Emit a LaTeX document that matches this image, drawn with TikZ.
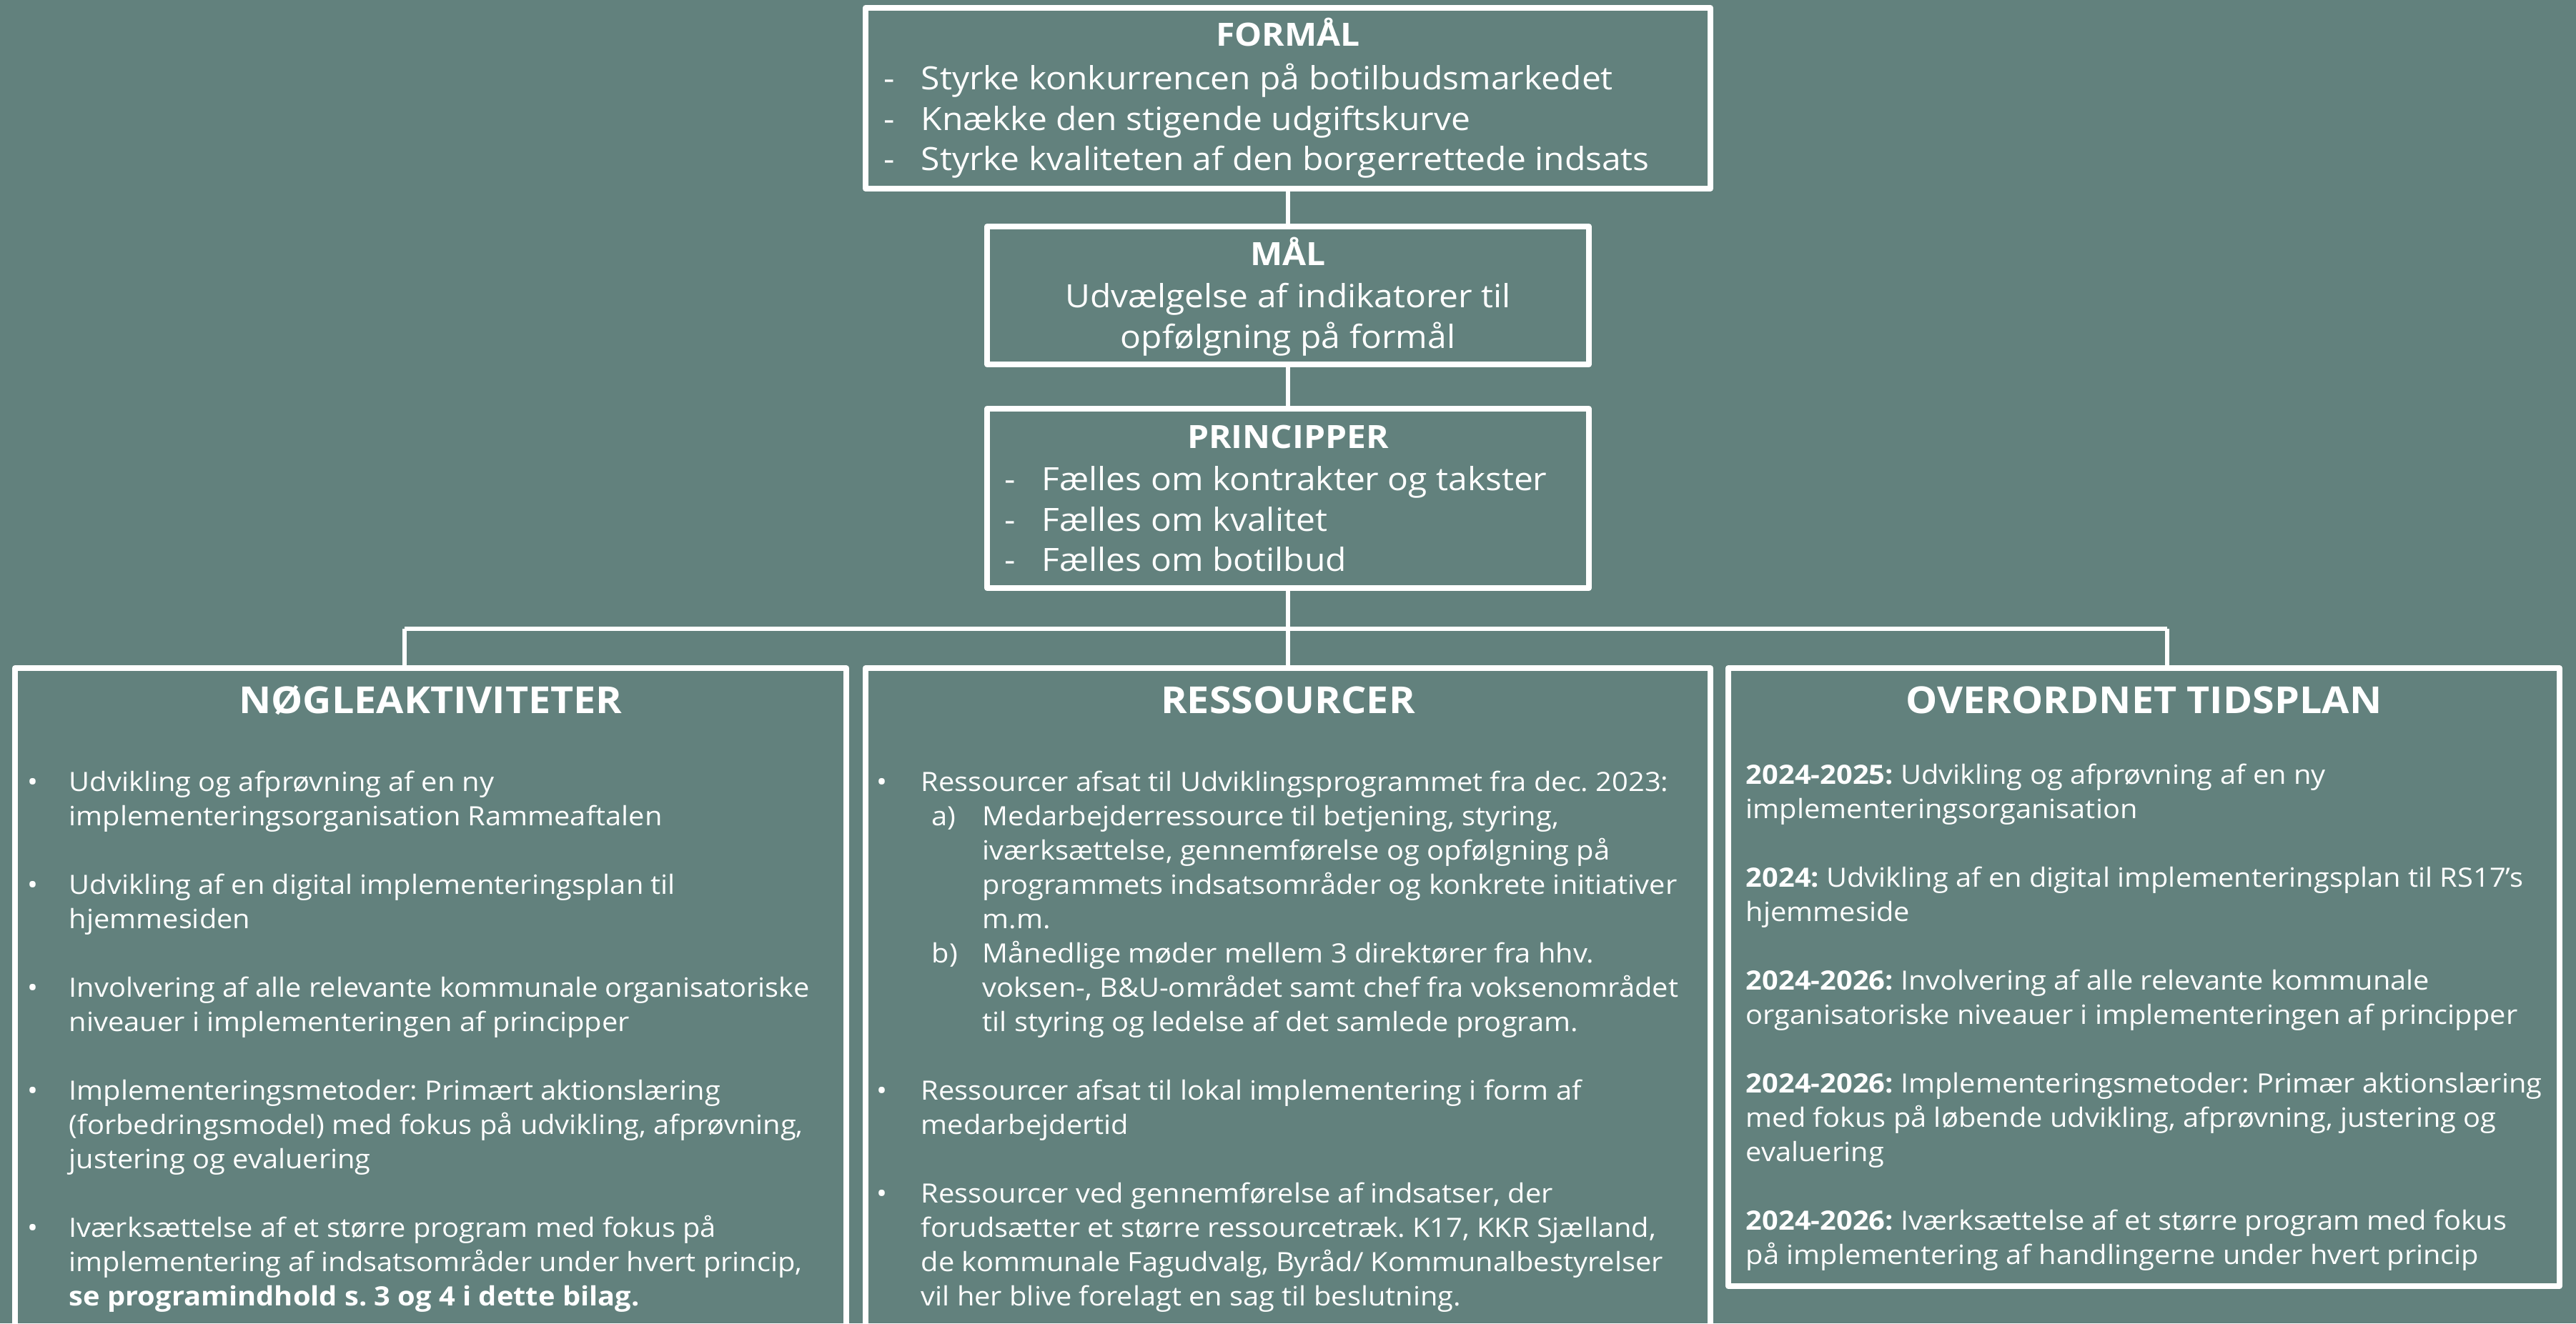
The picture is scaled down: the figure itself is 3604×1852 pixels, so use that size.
\documentclass[tikz,border=0pt]{standalone}
\usepackage{fontspec}
\setmainfont{Open Sans}[FakeStretch=1.07]
\definecolor{bg}{RGB}{98,129,125}
\newcommand{\lbul}{\makebox[14.5pt][l]{•}}
\newcommand{\lcont}{\hspace*{14.5pt}}
\newcommand{\mbul}{\makebox[15.5pt][l]{•}}
\newcommand{\mcont}{\hspace*{15.5pt}}
\newcommand{\msub}[1]{\hspace*{19.25pt}\makebox[17.75pt][l]{#1}}
\newcommand{\msubcont}{\hspace*{37pt}}
\newcommand{\tdash}{\makebox[13pt][l]{-}}
\frenchspacing
\begin{document}
\frenchspacing
\begin{tikzpicture}[x=0.25pt,y=-0.25pt,
  box/.style={draw=white, line width=2pt, line join=round, rectangle, inner sep=0pt, outer sep=0pt},
  conn/.style={draw=white, line width=1.4pt},
  tophead/.style={text=white, inner sep=0pt, font=\bfseries\fontsize{11.2}{14.125}\selectfont},
  toptxt/.style={text=white, inner sep=0pt, font=\fontsize{11.2}{14.125}\selectfont},
  bothead/.style={text=white, inner sep=0pt, font=\bfseries\fontsize{13}{15}\selectfont},
  bottxt/.style={text=white, inner sep=0pt, align=left, font=\fontsize{9.3}{12}\selectfont\frenchspacing}
]
\fill[bg] (0,0) rectangle (3604,1852);
\useasboundingbox (0,0) rectangle (3604,1852);
\clip (0,0) rectangle (3604,1852);

% boxes
\node[box, minimum width=295.5pt, minimum height=63.25pt] (formal) at (1802,137.5) {};
\node[box, minimum width=210.5pt, minimum height=48.25pt] (maal) at (1802,413.5) {};
\node[box, minimum width=210.5pt, minimum height=62.75pt] (princ) at (1802,697.5) {};
\node[box, minimum width=290.75pt, minimum height=253.75pt] (nog) at (602.5,1442.5) {};
\node[box, minimum width=295.5pt, minimum height=253.75pt] (res) at (1802,1442.5) {};
\node[box, minimum width=290.75pt, minimum height=216.25pt] (tid) at (2999.5,1367.5) {};

% connectors
\coordinate (busL) at (566,880);
\coordinate (busR) at (3032,880);
\draw[conn] (formal.south) -- (maal.north);
\draw[conn] (maal.south) -- (princ.north);
\draw[conn] (princ.south) -- (res.north);
\draw[conn] (busL) -- (busR);
\draw[conn] (busL) -- (nog.north -| busL);
\draw[conn] (busR) -- (tid.north -| busR);

% top texts
\node[tophead, anchor=base] (formalH) at (1802,65) {FORMÅL};
\node[toptxt, align=left, anchor=north west] (formalT) at (1236,77) {\rule{0pt}{12pt}\tdash Styrke konkurrencen på botilbudsmarkedet\\
\tdash Knække den stigende udgiftskurve\\
\tdash Styrke kvaliteten af den borgerrettede indsats};

\node[tophead, anchor=base] (maalH) at (1802,371) {MÅL};
\node[toptxt, align=center, anchor=north] (maalT) at (1802,382) {\rule{0pt}{12pt}Udvælgelse af indikatorer til\\
opfølgning på formål};

\node[tophead, anchor=base] (princH) at (1802,627) {PRINCIPPER};
\node[toptxt, align=left, anchor=north west] (princT) at (1405,638) {\rule{0pt}{12pt}\tdash Fælles om kontrakter og takster\\
\tdash Fælles om kvalitet\\
\tdash Fælles om botilbud};

% bottom headings
\node[bothead, anchor=base] (nogH) at (602.5,998) {NØGLEAKTIVITETER};
\node[bothead, anchor=base] (resH) at (1802,998) {RESSOURCER};
\node[bothead, anchor=base] (tidH) at (2999.5,998) {OVERORDNET TIDSPLAN};

% left column
\node[bottxt, anchor=north west] (nogT) at (38,1067) {\rule{0pt}{10pt}\lbul Udvikling og afprøvning af en ny\\
\lcont implementeringsorganisation Rammeaftalen\\[12pt]
\lbul Udvikling af en digital implementeringsplan til\\
\lcont hjemmesiden\\[12pt]
\lbul Involvering af alle relevante kommunale organisatoriske\\
\lcont niveauer i implementeringen af principper\\[12pt]
\lbul Implementeringsmetoder: Primært aktionslæring\\
\lcont (forbedringsmodel) med fokus på udvikling, afprøvning,\\
\lcont justering og evaluering\\[12pt]
\lbul Iværksættelse af et større program med fokus på\\
\lcont implementering af indsatsområder under hvert princip,\\
\lcont \textbf{se programindhold s. 3 og 4 i dette bilag.}};

% middle column
\node[bottxt, anchor=north west] (resT) at (1226,1067) {\rule{0pt}{10pt}\mbul Ressourcer afsat til Udviklingsprogrammet fra dec. 2023:\\
\msub{a)}Medarbejderressource til betjening, styring,\\
\msubcont iværksættelse, gennemførelse og opfølgning på\\
\msubcont programmets indsatsområder og konkrete initiativer\\
\msubcont m.m.\\
\msub{b)}Månedlige møder mellem 3 direktører fra hhv.\\
\msubcont voksen-, B\&U-området samt chef fra voksenområdet\\
\msubcont til styring og ledelse af det samlede program.\\[12pt]
\mbul Ressourcer afsat til lokal implementering i form af\\
\mcont medarbejdertid\\[12pt]
\mbul Ressourcer ved gennemførelse af indsatser, der\\
\mcont forudsætter et større ressourcetræk. K17, KKR Sjælland,\\
\mcont de kommunale Fagudvalg, Byråd/ Kommunalbestyrelser\\
\mcont vil her blive forelagt en sag til beslutning.};

% right column
\node[bottxt, anchor=north west] (tidT) at (2442,1057) {\rule{0pt}{10pt}\textbf{2024-2025:} Udvikling og afprøvning af en ny\\
implementeringsorganisation\\[12pt]
\textbf{2024:} Udvikling af en digital implementeringsplan til RS17’s\\
hjemmeside\\[12pt]
\textbf{2024-2026:} Involvering af alle relevante kommunale\\
organisatoriske niveauer i implementeringen af principper\\[12pt]
\textbf{2024-2026:} Implementeringsmetoder: Primær aktionslæring\\
med fokus på løbende udvikling, afprøvning, justering og\\
evaluering\\[12pt]
\textbf{2024-2026:} Iværksættelse af et større program med fokus\\
på implementering af handlingerne under hvert princip};
\end{tikzpicture}
\end{document}
